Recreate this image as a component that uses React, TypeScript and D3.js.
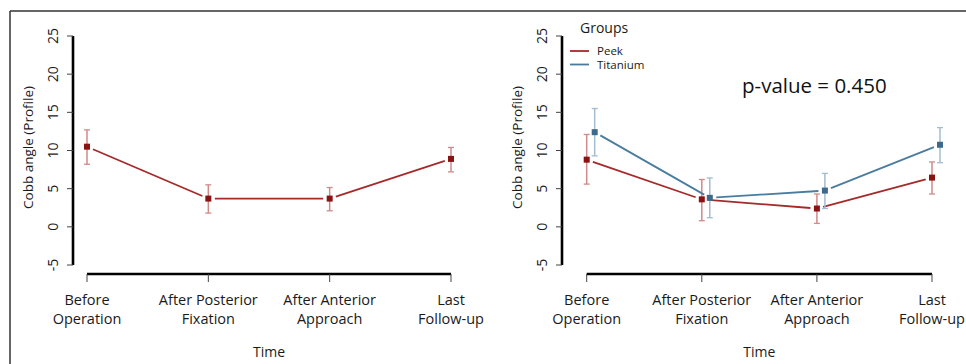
import React from "react";
import * as d3 from "d3";

const timeLine1 = ["Before", "After Posterior", "After Anterior", "Last"];
const timeLine2 = ["Operation", "Fixation", "Approach", "Follow-up"];
const times = timeLine1.map((t, i) => t + " " + timeLine2[i]);

const yTicks = [-5, 0, 5, 10, 15, 20, 25];

const overallMean = [10.5, 3.7, 3.7, 8.9];
const overallLow = [8.2, 1.8, 2.1, 7.2];
const overallHigh = [12.7, 5.5, 5.15, 10.4];

const peekMean = [8.8, 3.6, 2.4, 6.45];
const peekLow = [5.6, 0.8, 0.45, 4.3];
const peekHigh = [12.1, 6.2, 4.3, 8.5];

const titMean = [12.4, 3.8, 4.75, 10.75];
const titLow = [9.3, 1.2, 2.4, 8.4];
const titHigh = [15.5, 6.4, 7.0, 13.0];

const groups = ["Peek", "Titanium"];
const pValueText = "p-value = 0.450";

const FONT = "'Open Sans', sans-serif";
const RED_LINE = "#a52a2a";
const RED_PT = "#8b1212";
const RED_ERR = "#d08a8a";
const BLUE_LINE = "#4a7c9e";
const BLUE_PT = "#3d6a8c";
const BLUE_ERR = "#a3bccf";

type Series = { mean: number[]; low: number[]; high: number[]; line: string; pt: string; err: string; dx: number };

function Panel({ axisX, xRange, series }: { axisX: number; xRange: [number, number]; series: Series[] }) {
  const y = d3.scaleLinear().domain([-5, 25]).range([265, 36]);
  const x = d3.scalePoint<string>().domain(times).range(xRange);
  const axisY = 274;
  const gap = 6.5;
  const midX = (xRange[0] + xRange[1]) / 2;
  return (
    <g>
      {/* y axis */}
      <line x1={axisX} x2={axisX} y1={y(25)} y2={y(-5)} stroke="#000" strokeWidth={2.6} />
      {yTicks.map((t) => (
        <g key={t}>
          <line x1={axisX - 6} x2={axisX} y1={y(t)} y2={y(t)} stroke="#444" strokeWidth={1} />
          <text
            transform={`translate(${axisX - 15},${y(t)}) rotate(-90)`}
            textAnchor="middle"
            fontFamily={FONT}
            fontSize={14}
            fill="#1a1a1a"
          >
            {t}
          </text>
        </g>
      ))}
      <text
        transform={`translate(${axisX - 40},${(y(25) + y(-5)) / 2 - 3}) rotate(-90)`}
        textAnchor="middle"
        fontFamily={FONT}
        fontSize={13.5}
        fill="#1a1a1a"
      >
        Cobb angle (Profile)
      </text>
      {/* x axis */}
      <line x1={xRange[0]} x2={xRange[1]} y1={axisY} y2={axisY} stroke="#000" strokeWidth={2.6} />
      {times.map((t, i) => (
        <g key={t}>
          <line x1={x(t)!} x2={x(t)!} y1={axisY} y2={axisY + 8} stroke="#444" strokeWidth={1} />
          <text x={x(t)!} y={305} textAnchor="middle" fontFamily={FONT} fontSize={14.5} fill="#1a1a1a">
            {timeLine1[i]}
          </text>
          <text x={x(t)!} y={324} textAnchor="middle" fontFamily={FONT} fontSize={14.5} fill="#1a1a1a">
            {timeLine2[i]}
          </text>
        </g>
      ))}
      <text x={midX} y={357} textAnchor="middle" fontFamily={FONT} fontSize={14} fill="#1a1a1a">
        Time
      </text>
      {series.map((s, si) => {
        const px = times.map((t) => x(t)! + s.dx);
        const py = s.mean.map((v) => y(v));
        return (
          <g key={si}>
            {px.slice(0, -1).map((x0, i) => {
              const x1 = px[i + 1];
              const y0 = py[i];
              const y1 = py[i + 1];
              const len = Math.hypot(x1 - x0, y1 - y0);
              const ux = (x1 - x0) / len;
              const uy = (y1 - y0) / len;
              return (
                <line
                  key={i}
                  x1={x0 + ux * gap}
                  y1={y0 + uy * gap}
                  x2={x1 - ux * gap}
                  y2={y1 - uy * gap}
                  stroke={s.line}
                  strokeWidth={1.8}
                />
              );
            })}
            {px.map((xx, i) => (
              <g key={i}>
                <line x1={xx} x2={xx} y1={y(s.low[i])} y2={y(s.high[i])} stroke={s.err} strokeWidth={1.5} />
                <line x1={xx - 3} x2={xx + 3} y1={y(s.low[i])} y2={y(s.low[i])} stroke={s.err} strokeWidth={1.3} />
                <line x1={xx - 3} x2={xx + 3} y1={y(s.high[i])} y2={y(s.high[i])} stroke={s.err} strokeWidth={1.3} />
                <rect x={xx - 3} y={py[i] - 3} width={6} height={6} fill={s.pt} />
              </g>
            ))}
          </g>
        );
      })}
    </g>
  );
}

export default function App() {
  const leftSeries: Series[] = [
    { mean: overallMean, low: overallLow, high: overallHigh, line: RED_LINE, pt: RED_PT, err: RED_ERR, dx: 0 },
  ];
  const rightSeries: Series[] = [
    { mean: peekMean, low: peekLow, high: peekHigh, line: RED_LINE, pt: RED_PT, err: RED_ERR, dx: 0 },
    { mean: titMean, low: titLow, high: titHigh, line: BLUE_LINE, pt: BLUE_PT, err: BLUE_ERR, dx: 8 },
  ];
  const legendColors = [RED_LINE, BLUE_LINE];
  return (
    <svg
      width={966}
      height={364}
      style={{ position: "absolute", left: 0, top: 0, background: "#fff" }}
    >
      <rect x={0} y={0} width={966} height={364} fill="#fff" />
      <line x1={10} x2={966} y1={11} y2={11} stroke="#333" strokeWidth={1.5} />
      <line x1={10} x2={10} y1={11} y2={364} stroke="#333" strokeWidth={1.5} />
      <Panel axisX={73} xRange={[87, 451]} series={leftSeries} />
      <Panel axisX={562} xRange={[586.7, 932]} series={rightSeries} />
      <text x={580} y={33} fontFamily={FONT} fontSize={14} fill="#1a1a1a">
        Groups
      </text>
      {groups.map((g, i) => (
        <g key={g}>
          <line x1={570} x2={589} y1={51 + i * 13.5} y2={51 + i * 13.5} stroke={legendColors[i]} strokeWidth={1.8} />
          <text x={597} y={55 + i * 13.5} fontFamily={FONT} fontSize={11.5} fill="#1a1a1a">
            {g}
          </text>
        </g>
      ))}
      <text x={742} y={93} fontFamily={FONT} fontSize={20.5} fill="#111">
        {pValueText}
      </text>
    </svg>
  );
}
